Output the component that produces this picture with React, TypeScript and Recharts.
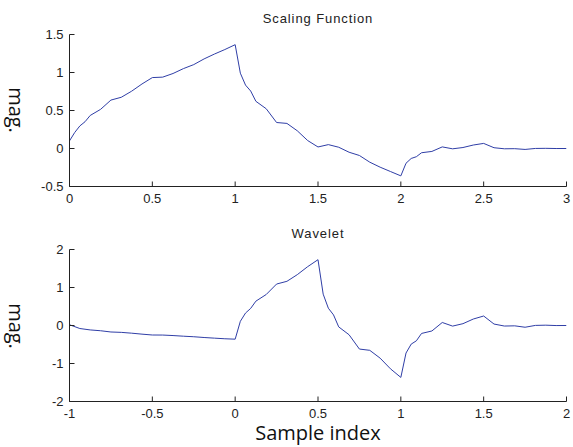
import React from 'react';
import { LineChart, Line, XAxis, YAxis } from 'recharts';

const scalingX = [
  0, 0.03125, 0.0625, 0.09375, 0.125, 0.1875, 0.25, 0.3125, 0.375, 0.4375, 0.5, 0.5625, 0.625, 0.6875,
  0.75, 0.8125, 0.875, 0.9375, 1, 1.03125, 1.0625, 1.09375, 1.125, 1.1875, 1.25, 1.3125, 1.375, 1.4375,
  1.5, 1.5625, 1.625, 1.6875, 1.75, 1.8125, 1.875, 1.9375, 2, 2.03125, 2.0625, 2.09375, 2.125, 2.1875,
  2.25, 2.3125, 2.375, 2.4375, 2.5, 2.5625, 2.625, 2.6875, 2.75, 2.8125, 2.875, 2.9375, 3,
];
const scalingY = [
  0.1, 0.21, 0.297, 0.352, 0.435, 0.515, 0.637, 0.674, 0.754, 0.849, 0.933, 0.939, 0.987, 1.051,
  1.104, 1.179, 1.243, 1.302, 1.366, 0.991, 0.834, 0.756, 0.621, 0.523, 0.342, 0.33, 0.233, 0.105,
  0.02, 0.051, 0.0166, -0.049, -0.092, -0.18, -0.2457, -0.303, -0.36, -0.194, -0.131, -0.108, -0.0559, -0.0385,
  0.021, -0.0043, 0.0129, 0.0457, 0.067, 0.0102, -0.0038, -0.0024, -0.0123, 0.0007, 0.0022, -0.0004, 0,
];

const waveletX = [
  -1, -0.9375, -0.875, -0.8125, -0.75, -0.6875, -0.625, -0.5625, -0.5, -0.4375, -0.375, -0.3125,
  -0.25, -0.1875, -0.125, -0.0625, 0, 0.03125, 0.0625, 0.09375, 0.125, 0.1875, 0.25, 0.3125, 0.375, 0.4375,
  0.5, 0.53125, 0.5625, 0.59375, 0.625, 0.6875, 0.75, 0.8125, 0.875, 0.9375, 1, 1.03125, 1.0625, 1.09375,
  1.125, 1.1875, 1.25, 1.3125, 1.375, 1.4375, 1.5, 1.5625, 1.625, 1.6875, 1.75, 1.8125, 1.875, 1.9375, 2,
];
const waveletY = [
  0.02, -0.0796, -0.1166, -0.138, -0.1707, -0.1806, -0.202, -0.2275, -0.25, -0.2515, -0.2645, -0.2816,
  -0.2958, -0.3159, -0.333, -0.349, -0.36, 0.111, 0.328, 0.4505, 0.641, 0.816, 1.091, 1.163, 1.338, 1.548,
  1.732, 0.825, 0.455, 0.279, -0.037, -0.2435, -0.62, -0.653, -0.859, -1.14, -1.366, -0.725, -0.49, -0.403,
  -0.209, -0.144, 0.0793, -0.0159, 0.048, 0.1705, 0.25, 0.0382, -0.0143, -0.0088, -0.0458, 0.0026, 0.0084, -0.0015, 0,
];

const scalingXTicks = [0, 0.5, 1, 1.5, 2, 2.5, 3];
const scalingXTickLabels = ['0', '0.5', '1', '1.5', '2', '2.5', '3'];
const scalingYTicks = [-0.5, 0, 0.5, 1, 1.5];
const scalingYTickLabels = ['-0.5', '0', '0.5', '1', '1.5'];
const waveletXTicks = [-1, -0.5, 0, 0.5, 1, 1.5, 2];
const waveletXTickLabels = ['-1', '-0.5', '0', '0.5', '1', '1.5', '2'];
const waveletYTicks = [-2, -1, 0, 1, 2];
const waveletYTickLabels = ['-2', '-1', '0', '1', '2'];

const scalingData = scalingX.map((x, i) => ({ x, y: scalingY[i] }));
const waveletData = waveletX.map((x, i) => ({ x, y: waveletY[i] }));

const AXIS = '#222';
const LINE = '#2f3ea6';
const TICK_FONT = '"Liberation Sans", Arial, sans-serif';
const TICK_LEN = 5;

function labelFor(ticks: number[], labels: string[], v: number) {
  const i = ticks.indexOf(v);
  return i >= 0 ? labels[i] : String(v);
}

const makeBottomTick = (ticks: number[], labels: string[]) => (props: any) => {
  const { x, y, payload } = props;
  return (
    <g>
      <line x1={x} y1={y} x2={x} y2={y - TICK_LEN} stroke={AXIS} strokeWidth={1} />
      <text x={x} y={y + 16} textAnchor="middle" fontSize={13} fontFamily={TICK_FONT} fill="#222">
        {labelFor(ticks, labels, payload.value)}
      </text>
    </g>
  );
};

const makeLeftTick = (ticks: number[], labels: string[]) => (props: any) => {
  const { x, y, payload } = props;
  return (
    <g>
      <line x1={x} y1={y} x2={x + TICK_LEN} y2={y} stroke={AXIS} strokeWidth={1} />
      <text x={x - 6} y={y + 4.5} textAnchor="end" fontSize={13} fontFamily={TICK_FONT} fill="#222">
        {labelFor(ticks, labels, payload.value)}
      </text>
    </g>
  );
};

const TopTick = (props: any) => {
  const { x, y } = props;
  return <line x1={x} y1={y} x2={x} y2={y + TICK_LEN} stroke={AXIS} strokeWidth={1} />;
};

const RightTick = (props: any) => {
  const { x, y } = props;
  return <line x1={x} y1={y} x2={x - TICK_LEN} y2={y} stroke={AXIS} strokeWidth={1} />;
};

type PanelProps = {
  data: { x: number; y: number }[];
  xDomain: [number, number];
  yDomain: [number, number];
  xTicks: number[];
  xLabels: string[];
  yTicks: number[];
  yLabels: string[];
};

function Panel({ data, xDomain, yDomain, xTicks, xLabels, yTicks, yLabels }: PanelProps) {
  return (
    <LineChart
      width={573}
      height={215}
      data={data}
      margin={{ top: 34.5, right: 6.5, bottom: 0, left: 0 }}
    >
      <XAxis
        xAxisId="b"
        dataKey="x"
        type="number"
        domain={xDomain}
        ticks={xTicks}
        allowDataOverflow
        height={28.5}
        tickSize={0}
        tickMargin={0}
        tickLine={false}
        axisLine={{ stroke: AXIS }}
        tick={makeBottomTick(xTicks, xLabels)}
        interval={0}
      />
      <XAxis
        xAxisId="t"
        orientation="top"
        dataKey="x"
        type="number"
        domain={xDomain}
        ticks={xTicks}
        allowDataOverflow
        height={0}
        tickSize={0}
        tickMargin={0}
        tickLine={false}
        axisLine={{ stroke: AXIS }}
        tick={TopTick}
        interval={0}
      />
      <YAxis
        yAxisId="l"
        type="number"
        domain={yDomain}
        ticks={yTicks}
        allowDataOverflow
        width={69.5}
        tickSize={0}
        tickMargin={0}
        tickLine={false}
        axisLine={{ stroke: AXIS }}
        tick={makeLeftTick(yTicks, yLabels)}
        interval={0}
      />
      <YAxis
        yAxisId="r"
        orientation="right"
        type="number"
        domain={yDomain}
        ticks={yTicks}
        allowDataOverflow
        width={0}
        tickSize={0}
        tickMargin={0}
        tickLine={false}
        axisLine={{ stroke: AXIS }}
        tick={RightTick}
        interval={0}
      />
      <Line
        xAxisId="b"
        yAxisId="l"
        type="linear"
        dataKey="y"
        stroke={LINE}
        strokeWidth={1}
        dot={false}
        activeDot={false}
        isAnimationActive={false}
      />
      <Line
        xAxisId="t"
        yAxisId="r"
        type="linear"
        dataKey="y"
        stroke="none"
        strokeWidth={0}
        dot={false}
        activeDot={false}
        isAnimationActive={false}
      />
    </LineChart>
  );
}

const titleStyle: React.CSSProperties = {
  position: 'absolute',
  left: 69.5,
  width: 497,
  textAlign: 'center',
  fontFamily: TICK_FONT,
  fontSize: 13,
  letterSpacing: 0.9,
  color: '#222',
  lineHeight: '13px',
  whiteSpace: 'nowrap',
};

const magStyle = (cy: number): React.CSSProperties => ({
  position: 'absolute',
  left: 16,
  top: cy,
  transform: 'translate(-50%, -50%) rotate(90deg)',
  fontFamily: '"Open Sans", "Noto Sans", sans-serif',
  fontSize: 20,
  lineHeight: '20px',
  color: '#111',
  whiteSpace: 'nowrap',
});

export default function App() {
  return (
    <div
      style={{
        position: 'absolute',
        left: 0,
        top: 0,
        width: 573,
        height: 447,
        background: '#fff',
        overflow: 'hidden',
      }}
    >
      <div style={{ position: 'absolute', left: 0, top: 0 }}>
        <Panel
          data={scalingData}
          xDomain={[0, 3]}
          yDomain={[-0.5, 1.5]}
          xTicks={scalingXTicks}
          xLabels={scalingXTickLabels}
          yTicks={scalingYTicks}
          yLabels={scalingYTickLabels}
        />
      </div>
      <div style={{ position: 'absolute', left: 0, top: 215 }}>
        <Panel
          data={waveletData}
          xDomain={[-1, 2]}
          yDomain={[-2, 2]}
          xTicks={waveletXTicks}
          xLabels={waveletXTickLabels}
          yTicks={waveletYTicks}
          yLabels={waveletYTickLabels}
        />
      </div>
      <div style={{ ...titleStyle, top: 12 }}>Scaling Function</div>
      <div style={{ ...titleStyle, top: 227 }}>Wavelet</div>
      <div style={magStyle(110)}>mag.</div>
      <div style={magStyle(326)}>mag.</div>
      <div
        style={{
          position: 'absolute',
          left: 69.5,
          width: 497,
          top: 421,
          textAlign: 'center',
          fontFamily: '"Open Sans", "Noto Sans", sans-serif',
          fontSize: 20,
          lineHeight: '24px',
          color: '#111',
          whiteSpace: 'nowrap',
        }}
      >
        Sample index
      </div>
    </div>
  );
}
